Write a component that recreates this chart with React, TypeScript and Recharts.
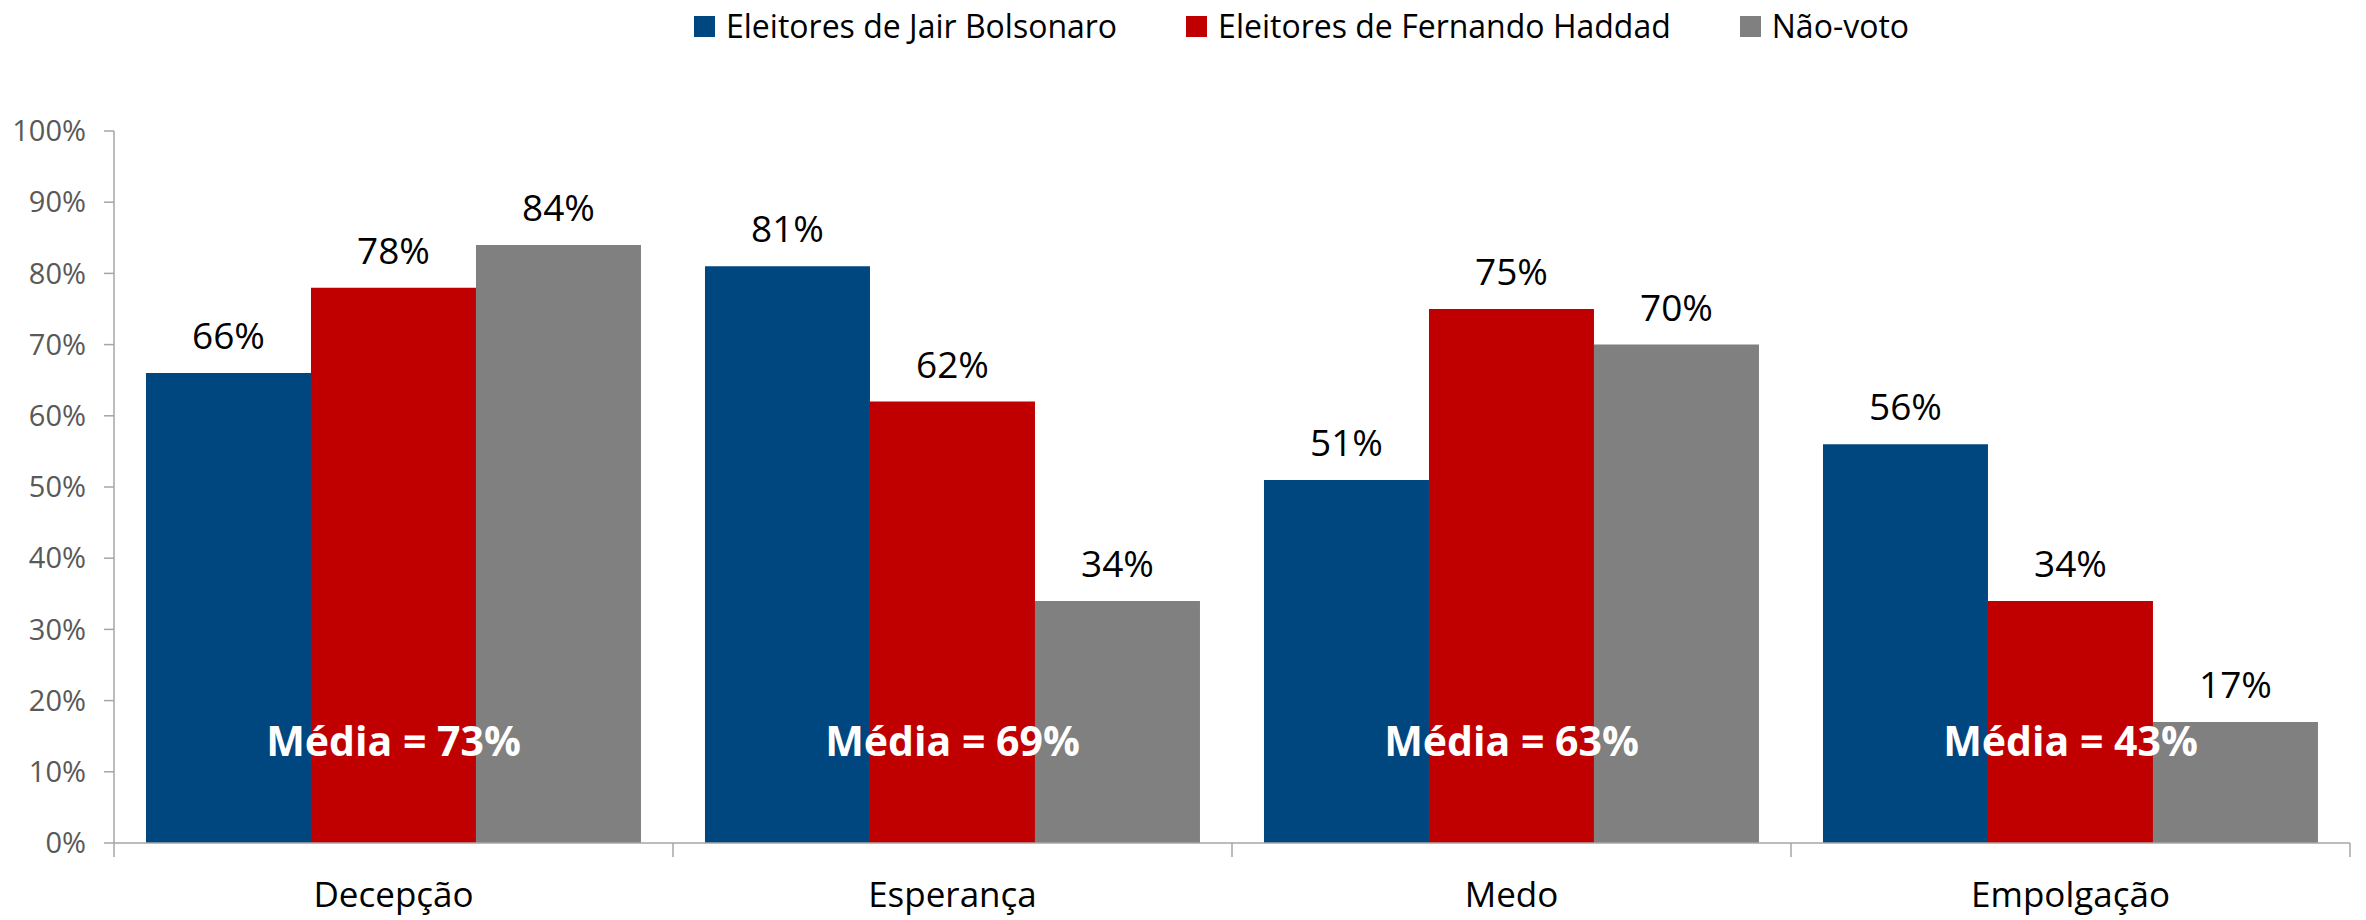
import React from 'react';
import { BarChart, Bar, XAxis, YAxis, Legend, LabelList, ReferenceDot } from 'recharts';

const categories = ['Decepção', 'Esperança', 'Medo', 'Empolgação'];
const bolsonaro = [66, 81, 51, 56];
const haddad = [78, 62, 75, 34];
const naoVoto = [84, 34, 70, 17];
const medias = [73, 69, 63, 43];
const yTicks = [0, 10, 20, 30, 40, 50, 60, 70, 80, 90, 100];

const SERIES = [
  { key: 'bolsonaro', name: 'Eleitores de Jair Bolsonaro', color: '#00467F' },
  { key: 'haddad', name: 'Eleitores de Fernando Haddad', color: '#C00000' },
  { key: 'naoVoto', name: 'Não-voto', color: '#808080' },
];

const data = categories.map((c, i) => ({
  category: c,
  bolsonaro: bolsonaro[i],
  haddad: haddad[i],
  naoVoto: naoVoto[i],
}));

const FONT = "'Open Sans', sans-serif";
const AXIS_COLOR = '#A6A6A6';
const MEDIA_LABEL_Y = 14.2;
const X_TICK_MARGIN = 39;
const X_TICK_LEN = 14;

const LegendContent = () => (
  <div style={{ display: 'flex', alignItems: 'center', height: 50, fontFamily: FONT, fontSize: 32, color: '#000', whiteSpace: 'nowrap' }}>
    {SERIES.map((s, i) => (
      <div key={s.key} style={{ display: 'flex', alignItems: 'center', marginRight: i < SERIES.length - 1 ? 69 : 0, height: 44 }}>
        <div style={{ width: 21, height: 21, background: s.color, marginRight: 11, marginTop: 3 }} />
        <span style={{ lineHeight: 'normal' }}>{s.name}</span>
      </div>
    ))}
  </div>
);

const CategoryTick = (props: any) => {
  const { x, y, payload, index, visibleTicksCount } = props;
  const half = payload && payload.offset ? payload.offset : 0;
  const axisY = y - X_TICK_MARGIN;
  const isLast = index === visibleTicksCount - 1;
  return (
    <g>
      <line x1={x - half} x2={x - half} y1={axisY} y2={axisY + X_TICK_LEN} stroke={AXIS_COLOR} strokeWidth={1.5} />
      {isLast && (
        <line x1={x + half} x2={x + half} y1={axisY} y2={axisY + X_TICK_LEN} stroke={AXIS_COLOR} strokeWidth={1.5} />
      )}
      <text x={x} y={y} dy="0.71em" textAnchor="middle" fontFamily={FONT} fontSize={35} fill="#000">
        {payload.value}
      </text>
    </g>
  );
};

export default function App() {
  return (
    <div style={{ position: 'absolute', left: 0, top: 0, background: '#fff' }}>
      <BarChart
        width={2366}
        height={920}
        data={data}
        margin={{ top: 81, right: 16, bottom: 0, left: 0 }}
        barCategoryGap="5.72%"
        barGap={0}
      >
        <Legend
          verticalAlign="top"
          align="left"
          content={<LegendContent />}
          wrapperStyle={{ left: 694, top: 0, width: 1400, height: 50 }}
        />
        <XAxis
          dataKey="category"
          height={77}
          tickLine={false}
          tickSize={0}
          tickMargin={X_TICK_MARGIN}
          axisLine={{ stroke: AXIS_COLOR, strokeWidth: 1.5 }}
          tick={<CategoryTick />}
          interval={0}
        />
        <YAxis
          domain={[0, 100]}
          ticks={yTicks}
          width={114}
          tickFormatter={(v) => `${v}%`}
          tickSize={10}
          tickMargin={18}
          axisLine={{ stroke: AXIS_COLOR, strokeWidth: 1.5 }}
          tickLine={{ stroke: AXIS_COLOR, strokeWidth: 1.5 }}
          tick={{ fontFamily: FONT, fontSize: 29, fill: '#595959' }}
          interval={0}
        />
        {SERIES.map((s) => (
          <Bar key={s.key} dataKey={s.key} name={s.name} fill={s.color} isAnimationActive={false}>
            <LabelList
              dataKey={s.key}
              position="top"
              offset={24}
              formatter={(v: number) => `${v}%`}
              style={{ fontFamily: FONT, fontSize: 37, fill: '#000' }}
            />
          </Bar>
        ))}
        {categories.map((c, i) => (
          <ReferenceDot
            key={c}
            x={c}
            y={MEDIA_LABEL_Y}
            r={0}
            fill="none"
            stroke="none"
            ifOverflow="visible"
            label={{
              value: `Média = ${medias[i]}%`,
              position: 'center',
              fill: '#FFFFFF',
              fontSize: 41,
              fontWeight: 700,
              fontFamily: FONT,
            }}
          />
        ))}
      </BarChart>
    </div>
  );
}
